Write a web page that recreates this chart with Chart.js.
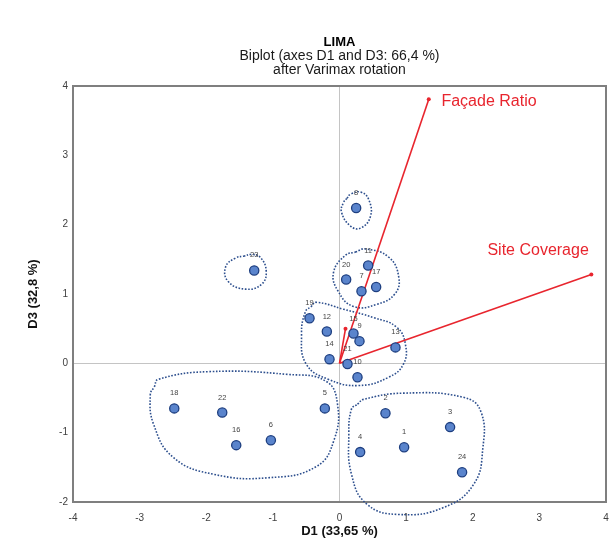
<!DOCTYPE html>
<html>
<head>
<meta charset="utf-8">
<script src="https://cdn.jsdelivr.net/npm/chart.js@4.4.1/dist/chart.umd.min.js"></script>
<style>
html,body{margin:0;padding:0;background:#fff;}
#wrap{width:616px;height:545px;}
</style>
</head>
<body>
<div id="wrap"><canvas id="c" width="616" height="545"></canvas></div>
<script>
// ---- Observations (D1, D3) ----
const obsLabels = ['8','23','11','20','7','17','19','12','15','9','13','14','21','10','18','22','16','6','5','2','3','1','4','24'];
const obsD1 = [0.25,-1.28,0.43,0.10,0.33,0.55,-0.45,-0.19,0.21,0.30,0.84,-0.15,0.12,0.27,-2.48,-1.76,-1.55,-1.03,-0.22,0.69,1.66,0.97,0.31,1.84];
const obsD3 = [2.24,1.34,1.41,1.21,1.04,1.10,0.65,0.46,0.43,0.32,0.23,0.06,-0.01,-0.20,-0.65,-0.71,-1.18,-1.11,-0.65,-0.72,-0.92,-1.21,-1.28,-1.57];

// ---- Variable vectors ----
const varNames = ['Façade Ratio','Site Coverage',''];
const varD1 = [1.34,3.78,0.09];
const varD3 = [3.81,1.28,0.50];
const varLabelD1 = [1.53,2.22];
const varLabelD3 = [3.77,1.62];

// ---- Cluster outlines (D1, D3) ----
const clusterA_D1 = [0.165,0.315,0.435,0.465,0.315,0.165,0.03,0.06];
const clusterA_D3 = [2.44,2.47,2.37,2.12,1.95,1.98,2.18,2.32];
const clusterB_D1 = [-1.32,-1.19,-1.10,-1.17,-1.41,-1.67,-1.71,-1.56];
const clusterB_D3 = [1.57,1.53,1.33,1.14,1.07,1.18,1.39,1.52];
const clusterC_D1 = [0.39,0.74,0.89,0.83,0.56,0.21,-0.02,-0.09,0.09];
const clusterC_D3 = [1.65,1.53,1.24,1.00,0.85,0.82,1.04,1.31,1.56];
const clusterD_D1 = [-0.35,0.06,0.51,0.86,0.99,0.96,0.74,0.29,-0.17,-0.50,-0.57,-0.51];
const clusterD_D3 = [0.88,0.78,0.66,0.52,0.27,-0.01,-0.20,-0.32,-0.23,-0.01,0.42,0.75];
const clusterE_D1 = [-2.72,-1.97,-0.77,-0.20,-0.03,-0.08,-0.35,-1.07,-1.89,-2.49,-2.79,-2.84];
const clusterE_D3 = [-0.23,-0.12,-0.16,-0.26,-0.59,-1.10,-1.49,-1.65,-1.60,-1.36,-0.88,-0.45];
const clusterF_D1 = [0.36,0.96,1.86,2.12,2.15,2.01,1.56,0.89,0.41,0.18,0.14,0.18];
const clusterF_D3 = [-0.52,-0.43,-0.49,-0.69,-1.24,-1.75,-2.08,-2.18,-2.03,-1.60,-1.02,-0.66];

// ---- Axis ticks ----
const xTicks = [-4,-3,-2,-1,0,1,2,3,4];
const yTicks = [-2,-1,0,1,2,3,4];

const FONT = "'Liberation Sans', Arial, sans-serif";
const RED = '#e8252e';

function toXY(xs, ys){ return xs.map((x,i)=>({x:x, y:ys[i]})); }
function closed(xs, ys){
  const p = toXY(xs, ys);
  const n = xs.length - 1;
  const m = {x:(xs[n]+xs[0])/2, y:(ys[n]+ys[0])/2};
  return [m].concat(p, [m]);
}

const clusters = [
  [clusterA_D1, clusterA_D3],[clusterB_D1, clusterB_D3],[clusterC_D1, clusterC_D3],
  [clusterD_D1, clusterD_D3],[clusterE_D1, clusterE_D3],[clusterF_D1, clusterF_D3]
];

const datasets = [];
datasets.push({
  type:'scatter', label:'obs', data: toXY(obsD1, obsD3), order:0,
  pointRadius:4.6, pointBackgroundColor:'#5a84cc', pointBorderColor:'#1e3f80', pointBorderWidth:1.3,
  pointHoverRadius:4.6
});
varD1.forEach((x,i)=>{
  datasets.push({
    type:'line', label:'var'+i, data:[{x:0,y:0},{x:x,y:varD3[i]}], order:1,
    borderColor:RED, borderWidth:1.6, showLine:true,
    pointRadius:[0,2], pointBackgroundColor:RED, pointBorderColor:RED, pointBorderWidth:0
  });
});
clusters.forEach((c,i)=>{
  datasets.push({
    type:'line', label:'cl'+i, data: closed(c[0], c[1]), order:2,
    borderColor:'#2d4f8e', borderWidth:1.6, borderDash:[1.6,1.6], tension:0.45,
    pointRadius:0, showLine:true, clip:false, fill:false
  });
});

const framePlugin = {
  id:'frame',
  beforeDatasetsDraw(chart){
    const a = chart.chartArea, ctx = chart.ctx;
    ctx.save();
    ctx.strokeStyle = '#7f7f7f'; ctx.lineWidth = 2;
    ctx.strokeRect(a.left, a.top, a.right - a.left, a.bottom - a.top);
    ctx.restore();
  }
};

const labelPlugin = {
  id:'labels',
  afterDatasetsDraw(chart){
    const ctx = chart.ctx;
    const meta = chart.getDatasetMeta(0);
    ctx.save();
    ctx.font = "7.5px " + FONT;
    ctx.fillStyle = '#444';
    ctx.textAlign = 'center'; ctx.textBaseline = 'middle';
    meta.data.forEach((el,i)=>{ ctx.fillText(obsLabels[i], el.x, el.y - 15); });
    const xs = chart.scales.x, ys = chart.scales.y;
    ctx.font = "16px " + FONT;
    ctx.fillStyle = RED;
    ctx.textAlign = 'left';
    varLabelD1.forEach((x,i)=>{
      ctx.fillText(varNames[i], xs.getPixelForValue(x), ys.getPixelForValue(varLabelD3[i]));
    });
    ctx.restore();
  }
};

const zeroLine = (c)=> (c.tick && c.tick.value===0) ? '#c4c4c4' : 'rgba(0,0,0,0)';

new Chart(document.getElementById('c'), {
  type:'scatter',
  data:{ datasets },
  options:{
    responsive:false, animation:false, events:[],
    layout:{ padding:{ left:0, right:10, top:0, bottom:0 } },
    plugins:{
      legend:{ display:false }, tooltip:{ enabled:false },
      title:{ display:true, fullSize:false, text:'LIMA', color:'#000',
        font:{ family:FONT, size:13, weight:'bold', lineHeight:1.1 }, padding:{ top:34.85, bottom:0 } },
      subtitle:{ display:true, fullSize:false, text:['Biplot (axes D1 and D3: 66,4 %)','after Varimax rotation'], color:'#1a1a1a',
        font:{ family:FONT, size:14, lineHeight:1.0 }, padding:{ top:0, bottom:8.85 } }
    },
    scales:{
      x:{ type:'linear', min:-4, max:4,
        afterFit(s){ s.height = 43; },
        afterBuildTicks(s){ s.ticks = xTicks.map(v=>({value:v})); },
        ticks:{ font:{ family:FONT, size:10 }, color:'#404040', padding:0, maxRotation:0 },
        grid:{ drawTicks:true, tickLength:10, tickColor:'rgba(0,0,0,0)', lineWidth:1, color:zeroLine },
        border:{ display:false },
        title:{ display:true, text:'D1 (33,65 %)', color:'#111', font:{ family:FONT, size:13, weight:'bold', lineHeight:1.2 }, padding:{ top:0, bottom:6.2 } }
      },
      y:{ type:'linear', min:-2, max:4,
        afterFit(s){ s.width = 73; },
        afterBuildTicks(s){ s.ticks = yTicks.map(v=>({value:v})); },
        ticks:{ font:{ family:FONT, size:10 }, color:'#404040', padding:0 },
        grid:{ drawTicks:true, tickLength:5, tickColor:'rgba(0,0,0,0)', lineWidth:1, color:zeroLine },
        border:{ display:false },
        title:{ display:true, text:'D3 (32,8 %)', color:'#111', font:{ family:FONT, size:13, weight:'bold', lineHeight:1.2 }, padding:{ top:25.2, bottom:0 } }
      }
    }
  },
  plugins:[framePlugin, labelPlugin]
});
</script>
</body>
</html>
